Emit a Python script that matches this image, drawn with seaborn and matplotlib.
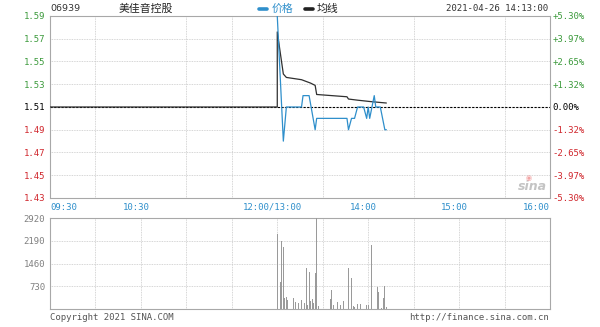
import numpy as np
import pandas as pd
import matplotlib
matplotlib.use("Agg")
import matplotlib.pyplot as plt
import matplotlib.transforms as mtransforms
from matplotlib.lines import Line2D
import seaborn as sns

# ---------------- data ----------------
ref_price = 1.51
price_ticks = [1.59, 1.57, 1.55, 1.53, 1.51, 1.49, 1.47, 1.45, 1.43]
vol_ticks = [730, 1460, 2190, 2920]
time_ticks = [0, 60, 150, 210, 270, 330]          # trading minutes since 09:30
time_labels = ["09:30", "10:30", "12:00/13:00", "14:00", "15:00", "16:00"]

price_min = [150, 154, 156, 166, 167, 171, 175, 176, 196, 197, 199, 201, 203,
             207, 209, 210, 211, 214, 215, 218, 221, 222]
price_val = [1.59, 1.48, 1.51, 1.51, 1.52, 1.52, 1.49, 1.50, 1.50, 1.49, 1.50,
             1.50, 1.51, 1.51, 1.50, 1.51, 1.50, 1.52, 1.51, 1.51, 1.49, 1.49]

avg_min = [0, 150, 150, 154, 156, 166, 172, 175, 176, 186, 196, 197, 203, 212, 222]
avg_val = [1.51, 1.51, 1.576, 1.539, 1.536, 1.534, 1.531, 1.529, 1.521, 1.520,
           1.519, 1.517, 1.516, 1.5147, 1.5135]

vol_min = [150, 152, 153, 154, 155, 156, 157, 161, 162, 164, 166, 168, 169, 170,
           171, 172, 173, 174, 175, 176, 177, 185, 186, 187, 190, 192, 194, 197,
           199, 200, 201, 203, 205, 209, 210, 212, 216, 217, 219, 220, 221, 222]
vol_val = [2400, 875, 2180, 2000, 350, 400, 290, 350, 230, 190, 300, 190, 1300, 130,
           1200, 250, 330, 200, 1150, 2920, 85, 330, 620, 130, 230, 130, 260, 1310,
           985, 95, 60, 150, 170, 130, 130, 2060, 715, 545, 30, 345, 730, 75]

price_df = pd.DataFrame({"t": price_min, "p": price_val})
avg_df = pd.DataFrame({"t": avg_min, "p": avg_val})
vol_df = pd.DataFrame({"t": vol_min, "v": vol_val})

# ---------------- style ----------------
sns.set_style("white")
plt.rcParams["font.family"] = ["DejaVu Sans Mono", "Noto Sans CJK SC"]

BLUE = "#2f8fcb"
GREEN = "#3c9a3c"
RED = "#d0262c"
GRID = "#c8c8c8"
SPINE = "#a8a8a8"
MONO = 6.5

W, H = 600, 327
fig = plt.figure(figsize=(W / 100, H / 100), dpi=100)
ax = fig.add_axes([50 / W, 1 - 198 / H, 500 / W, 182 / H])
axv = fig.add_axes([50 / W, 1 - 309 / H, 500 / W, 91 / H])

grid_kw = dict(color=GRID, linewidth=0.6, linestyle=(0, (1, 1)))

# ---------------- price panel ----------------
ax.set_xlim(0, 330)
ax.set_ylim(1.43, 1.59)
ax.set_xticks(time_ticks)
ax.set_xticks(range(0, 331, 30), minor=True)
ax.set_xticklabels([])
ax.set_yticks(price_ticks)
ax.set_yticklabels([f"{p:.2f}" for p in price_ticks])
ax.tick_params(axis="both", which="both", length=0, pad=3.5, labelsize=MONO)
ax.grid(False)
ax.grid(True, which="minor", axis="x", **grid_kw)
ax.grid(True, which="major", axis="y", **grid_kw)
for lab, p in zip(ax.get_yticklabels(), price_ticks):
    lab.set_color(GREEN if p > ref_price else (RED if p < ref_price else "black"))

ax.axhline(ref_price, color="black", linewidth=0.8, linestyle=(0, (2, 1.3)), zorder=2)

sns.lineplot(data=avg_df, x="t", y="p", ax=ax, color="#303030", linewidth=0.9,
             sort=False, estimator=None, zorder=3)
sns.lineplot(data=price_df, x="t", y="p", ax=ax, color=BLUE, linewidth=0.9,
             sort=False, estimator=None, zorder=4)
ax.set_xlabel("")
ax.set_ylabel("")

for s in ax.spines.values():
    s.set_color(SPINE)
    s.set_linewidth(0.8)

ax2 = ax.twinx()
ax2.set_ylim(1.43, 1.59)
ax2.set_yticks(price_ticks)
pct = [(p - ref_price) / ref_price * 100 for p in price_ticks]
ax2.set_yticklabels([("+" if v > 0.001 else "") + f"{v:.2f}%" if abs(v) > 0.001 else "0.00%"
                     for v in pct])
ax2.tick_params(axis="y", length=0, pad=2, labelsize=MONO)
for lab, v in zip(ax2.get_yticklabels(), pct):
    lab.set_color(GREEN if v > 0.001 else (RED if v < -0.001 else "black"))
for s in ax2.spines.values():
    s.set_visible(False)

# time labels under price panel
bt = mtransforms.blended_transform_factory(ax.transData, ax.transAxes)
for t, lab in zip(time_ticks, time_labels):
    if t == time_ticks[0]:
        ha, dx = "left", 0
    elif t == time_ticks[-1]:
        ha, dx = "right", 0
    else:
        ha, dx = "center", -5
    tr = bt + mtransforms.ScaledTranslation(dx / 100, -9 / 100, fig.dpi_scale_trans)
    ax.text(t, 0, lab, transform=tr, ha=ha, va="center", fontsize=MONO, color=BLUE)

# ---------------- volume panel ----------------
sns.histplot(data=vol_df, x="t", weights="v", discrete=True, shrink=0.7, ax=axv,
             color="#9a9a9a", alpha=1, linewidth=0, zorder=3)
axv.set_xlim(0, 330)
axv.set_ylim(0, 2920)
axv.set_xticks(range(0, 331, 30))
axv.set_xticklabels([])
axv.set_yticks(vol_ticks)
axv.set_yticklabels([str(v) for v in vol_ticks])
axv.tick_params(axis="both", length=0, pad=3.5, labelsize=MONO, labelcolor="#808080")
axv.grid(True, axis="both", **grid_kw)
axv.set_xlabel("")
axv.set_ylabel("")
for s in axv.spines.values():
    s.set_color(SPINE)
    s.set_linewidth(0.8)

# ---------------- header / footer ----------------
def fx(x):
    return x / W

def fy(y):
    return 1 - y / H

fig.text(fx(50), fy(8.5), "06939", fontsize=6.8, color="#333333", va="center",
         ha="left", family=["DejaVu Sans"])
fig.text(fx(119), fy(8.5), "美佳音控股", fontsize=7.8, color="#222222", va="center",
         ha="left", family=["Noto Sans CJK SC", "DejaVu Sans"])
fig.add_artist(Line2D([fx(259), fx(267)], [fy(9), fy(9)], color=BLUE, linewidth=2.6))
fig.text(fx(272), fy(8.5), "价格", fontsize=7.8, color=BLUE, va="center", ha="left",
         family=["Noto Sans CJK SC", "DejaVu Sans"])
fig.add_artist(Line2D([fx(305), fx(313)], [fy(9), fy(9)], color="#202020", linewidth=2.6))
fig.text(fx(317), fy(8.5), "均线", fontsize=7.8, color="#222222", va="center", ha="left",
         family=["Noto Sans CJK SC", "DejaVu Sans"])
fig.text(fx(548), fy(8.5), "2021-04-26 14:13:00", fontsize=MONO, color="#333333",
         va="center", ha="right")
fig.text(fx(50), fy(317.5), "Copyright 2021 SINA.COM", fontsize=MONO, color="#555555",
         va="center", ha="left")
fig.text(fx(549), fy(317.5), "http://finance.sina.com.cn", fontsize=MONO, color="#555555",
         va="center", ha="right")

# sina watermark
fig.text(fx(532), fy(186), "sina", fontsize=9, color="#c4c4c4", style="italic",
         weight="bold", va="center", ha="center", family=["DejaVu Sans"])
fig.text(fx(529), fy(178), "◉", fontsize=5, color="#f2a5a5", va="center", ha="center",
         family=["DejaVu Sans"])

fig.savefig("out.png", dpi=100, facecolor="white")
